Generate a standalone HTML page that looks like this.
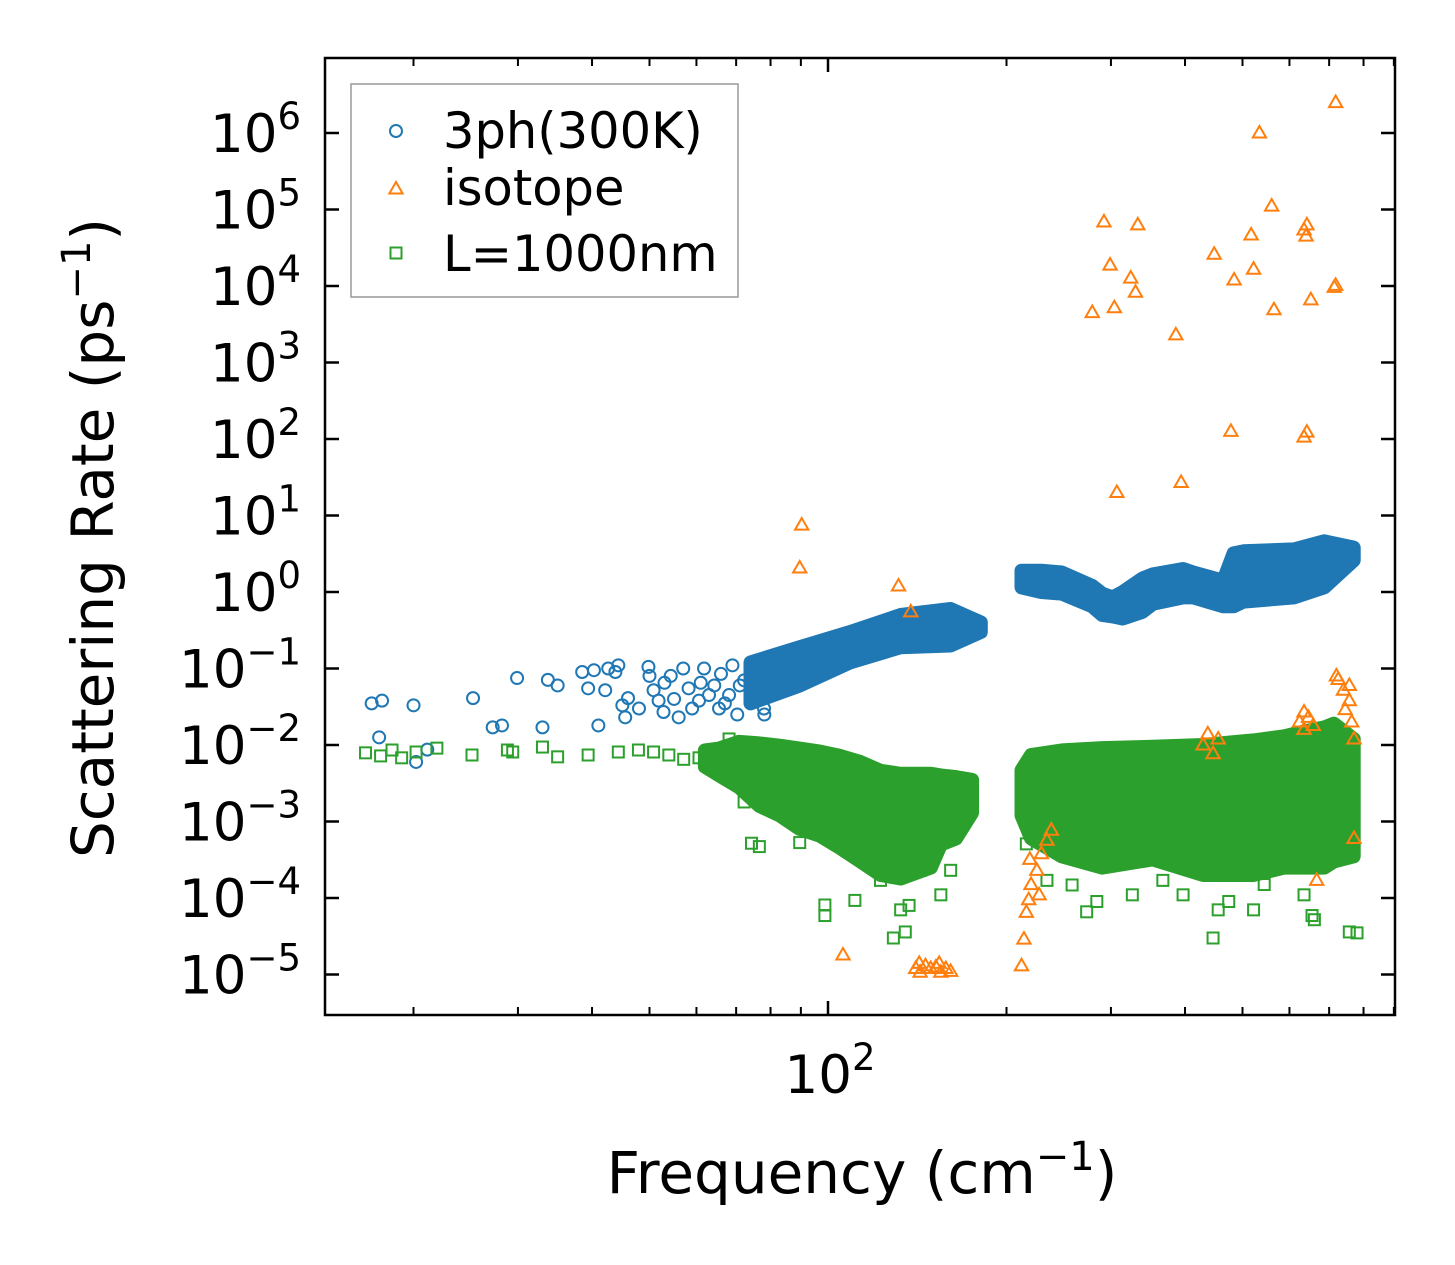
<!DOCTYPE html>
<html><head><meta charset="utf-8"><style>
html,body{margin:0;padding:0;background:#fff;}
svg{display:block;font-family:"DejaVu Sans","Liberation Sans",sans-serif;}
</style></head><body>
<svg id="chart" width="1455" height="1265" viewBox="0 0 1455 1265" xmlns="http://www.w3.org/2000/svg">
<rect x="0" y="0" width="1455" height="1265" fill="#fff"/>
<g id="marks"></g>
<g id="axes"></g>
<g id="legend"></g>
</svg>
<script>
// ---------- data ----------
const blueFreq = [17.0,17.7,17.5,20.0,20.2,21.1,25.2,27.2,28.2,29.9,33.0,33.7,35.0,38.5,39.4,40.3,41.0,42.1,42.6,43.8,44.3,45.0,45.5,46.0,49.8,50.8,51.8,52.8,54.3,56.0,58.2,60.6,61.8,64.3,65.5,68.1,70.3,72.2,78.1,
  48,50,53,55,57,59,61,63,66,67,69,71,74,76,78,80];
const blueRate = [0.035,0.038,0.0126,0.033,0.006,0.0087,0.041,0.017,0.018,0.075,0.017,0.071,0.06,0.09,0.055,0.095,0.018,0.052,0.1,0.09,0.11,0.033,0.023,0.041,0.105,0.052,0.038,0.027,0.08,0.023,0.055,0.038,0.1,0.06,0.03,0.045,0.025,0.07,0.025,
  0.03,0.08,0.065,0.04,0.1,0.03,0.065,0.045,0.085,0.035,0.11,0.06,0.04,0.1,0.03,0.045];
// dense blue bands: frequency, upper rate, lower rate
const blueBandLFreq = [74,89.6,109,132.6,161,181];
const blueBandLHigh = [0.12,0.19,0.3,0.5,0.6,0.4];
const blueBandLLow  = [0.035,0.06,0.12,0.19,0.2,0.3];
const blueBandRFreq = [212,229,248,279,290,302,314,339,353,397,413,464,483,502,611,687,770];
const blueBandRHigh = [1.9,1.9,1.8,1.2,0.95,0.85,1.0,1.5,1.7,2.0,1.8,1.4,3.2,3.4,3.6,4.6,3.8];
const blueBandRLow  = [1.15,1.0,0.95,0.65,0.5,0.48,0.45,0.55,0.7,0.85,0.85,0.65,0.65,0.75,0.85,1.15,2.6];

const greenFreq = [16.6,17.6,18.4,19.1,20.2,21.9,25.1,28.8,29.4,33.0,35.0,39.4,44.3,47.9,50.8,53.9,57.1,60.6,62.9,68.1,
  74.3,76.6,89.6,98.8,98.8,111,122.6,132.6,128.9,135,137,143,155,161,72.2,81.3,
  216,234,258,273,284,326,367,397,446,455,474,522,544,635,655,661,757,687,725,780];
const greenRate = [0.0079,0.0072,0.0086,0.0068,0.0081,0.0091,0.0074,0.0086,0.0081,0.0094,0.007,0.0074,0.0081,0.0086,0.0081,0.0074,0.0065,0.0068,0.0062,0.012,
  0.00052,0.00047,0.00053,0.000081,0.000059,0.000093,0.00017,0.00007,0.00003,0.000036,0.00008,0.00023,0.00011,0.00023,0.0018,0.0014,
  0.00051,0.00017,0.000148,0.000066,0.00009,0.00011,0.00017,0.00011,0.00003,0.00007,0.00009,0.00007,0.00015,0.00011,0.000059,0.000052,0.000036,0.00037,0.0012,0.000035];
const greenBandLFreq = [62,65.5,70.8,76.6,82.9,89.6,96.9,104.8,113.4,122.6,132.6,149.1,155,164.4,175];
const greenBandLHigh = [0.0085,0.009,0.011,0.0105,0.0098,0.009,0.0082,0.0072,0.006,0.0046,0.0042,0.0042,0.0040,0.0038,0.0035];
const greenBandLLow  = [0.0052,0.004,0.0028,0.0016,0.0012,0.0008,0.00065,0.00045,0.0003,0.0002,0.00018,0.00025,0.0005,0.0006,0.0013];
const greenBandRFreq = [212,220,248,290,353,429,522,588,635,687,713,770];
const greenBandRHigh = [0.0047,0.0074,0.0085,0.0091,0.0095,0.01,0.0115,0.013,0.015,0.017,0.019,0.012];
const greenBandRLow  = [0.0012,0.0006,0.00035,0.00025,0.00032,0.0002,0.0002,0.00025,0.00025,0.00025,0.0003,0.00035];

const orangeFreq = [90.3,89.6,131.5,137.9,106,279,292,299,304,324,330,333,386,394,307,448,478,484,517,522,534,560,565,635,642,635,640,642,652,718,718,714,
  140.6,143,146,149,152,155,158,161,142.5,154,
  212,214,216,218,220,225,229,234,238,219,227,
  429,437,446,455,624,635,646,658,635,725,740,757,764,771,745,720,757,771,667];
const orangeRate = [7.5,2.06,1.2,0.55,1.8e-5,4500,68800,18800,5200,12700,8300,63000,2300,27,20,26000,126,12000,46500,16600,1e6,111000,4900,106,123,54000,45000,63000,6600,2.5e6,10200,9600,
  1.2e-5,1.07e-5,1.3e-5,1.2e-5,1.25e-5,1.07e-5,1.2e-5,1.1e-5,1.4e-5,1.4e-5,
  1.3e-5,2.9e-5,6.5e-5,9.5e-5,1.5e-4,2.3e-4,3.8e-4,5.7e-4,7.7e-4,3.2e-4,1.1e-4,
  0.01,0.014,0.0077,0.012,0.02,0.016,0.023,0.018,0.027,0.072,0.052,0.038,0.02,0.012,0.029,0.08,0.06,0.0006,0.00017];

const yTickExps = [-5,-4,-3,-2,-1,0,1,2,3,4,5,6];
const xMinorTicks = [20,30,40,50,60,70,80,90,200,300,400,500,600,700,800,900];

// ---------- axes ----------
const L=325,R=1395,T=58,B=1015;
const xDec=593, x100=828;
function sx(f){return x100+(Math.log10(f)-2)*xDec;}
const yDec=76.5, y6=133;
function sy(v){return y6+(6-Math.log10(v))*yDec;}
const NS="http://www.w3.org/2000/svg";
function mk(tag,attrs,parent){const e=document.createElementNS(NS,tag);for(const k in attrs)e.setAttribute(k,attrs[k]);parent.appendChild(e);return e;}
const marks=document.getElementById('marks');
const axes=document.getElementById('axes');
const legend=document.getElementById('legend');
const BLUE="#1f77b4",ORANGE="#ff7f0e",GREEN="#2ca02c";

function band(fr,hi,lo,color,name){
  let pts=[];
  for(let i=0;i<fr.length;i++)pts.push(sx(fr[i]).toFixed(1)+","+sy(hi[i]).toFixed(1));
  for(let i=fr.length-1;i>=0;i--)pts.push(sx(fr[i]).toFixed(1)+","+sy(lo[i]).toFixed(1));
  const p=mk('polygon',{points:pts.join(' '),fill:color,stroke:color,'stroke-width':14,'stroke-linejoin':'round'},marks);
  
  
}
function circle(x,y,g,name){const c=mk('circle',{cx:x,cy:y,r:6,fill:'none',stroke:BLUE,'stroke-width':2},g);
  
  }
function tri(x,y,g,name){const s=7;const p=mk('polygon',{points:`${x},${y-s} ${x-s*0.95},${y+s*0.65} ${x+s*0.95},${y+s*0.65}`,fill:'none',stroke:ORANGE,'stroke-width':2},g);
  
  }
function sq(x,y,g,name){const s=5.5;const r=mk('rect',{x:x-s,y:y-s,width:2*s,height:2*s,fill:'none',stroke:GREEN,'stroke-width':2},g);
  
  }

const gB=mk('g',{},marks);
band(blueBandLFreq,blueBandLHigh,blueBandLLow,BLUE,'3ph-dense-low');
band(blueBandRFreq,blueBandRHigh,blueBandRLow,BLUE,'3ph-dense-high');
for(let i=0;i<blueFreq.length;i++)circle(sx(blueFreq[i]),sy(blueRate[i]),gB,'3ph-point');

const gG=mk('g',{},marks);
band(greenBandLFreq,greenBandLHigh,greenBandLLow,GREEN,'boundary-dense-low');
band(greenBandRFreq,greenBandRHigh,greenBandRLow,GREEN,'boundary-dense-high');
for(let i=0;i<greenFreq.length;i++)sq(sx(greenFreq[i]),sy(greenRate[i]),gG,'boundary-point');

const gO=mk('g',{},marks);
for(let i=0;i<orangeFreq.length;i++)tri(sx(orangeFreq[i]),sy(orangeRate[i]),gO,'isotope-point');

// frame
const fr=mk('rect',{x:L,y:T,width:R-L,height:B-T,fill:'none',stroke:'#000','stroke-width':2.5},axes);


// y ticks
yTickExps.forEach(e=>{
  const y=sy(Math.pow(10,e));
  mk('line',{x1:L,y1:y,x2:L+14,y2:y,stroke:'#000','stroke-width':2.5},axes);
  mk('line',{x1:R,y1:y,x2:R-14,y2:y,stroke:'#000','stroke-width':2.5},axes);
  const t=mk('text',{x:301,y:y+19,'text-anchor':'end','font-size':53,fill:'#000'},axes);
  
  
  const base=document.createElementNS(NS,'tspan');base.textContent='10';t.appendChild(base);
  const sup=document.createElementNS(NS,'tspan');sup.setAttribute('dy','-23');sup.setAttribute('font-size','37');
  sup.textContent=(e<0?'\u2212'+(-e):String(e));t.appendChild(sup);
});
// x ticks
mk('line',{x1:x100,y1:B,x2:x100,y2:B-14,stroke:'#000','stroke-width':2.5},axes);
mk('line',{x1:x100,y1:T,x2:x100,y2:T+14,stroke:'#000','stroke-width':2.5},axes);
xMinorTicks.forEach(v=>{
  const x=sx(v); if(x<L||x>R)return;
  mk('line',{x1:x,y1:B,x2:x,y2:B-8,stroke:'#000','stroke-width':2},axes);
  mk('line',{x1:x,y1:T,x2:x,y2:T+8,stroke:'#000','stroke-width':2},axes);
});
const xl=mk('text',{x:x100+2,y:1093,'text-anchor':'middle','font-size':53,fill:'#000'},axes);

xl.innerHTML='10<tspan dy="-23" font-size="37">2</tspan>';

const xt=mk('text',{x:862,y:1193,'text-anchor':'middle','font-size':58,fill:'#000'},axes);

xt.innerHTML='Frequency (cm<tspan dy="-23" font-size="40">\u22121</tspan><tspan dy="23">)</tspan>';
const yt=mk('text',{x:0,y:0,'text-anchor':'middle','font-size':58,fill:'#000',transform:'translate(113,538) rotate(-90)'},axes);

yt.innerHTML='Scattering Rate (ps<tspan dy="-23" font-size="40">\u22121</tspan><tspan dy="23">)</tspan>';

// legend
const lb=mk('rect',{x:351,y:84,width:387,height:213,fill:'#fff',stroke:'#999','stroke-width':1.5},legend);

const le=[['3ph(300K)',131,'legend-entry-3ph'],['isotope',188,'legend-entry-isotope'],['L=1000nm',254,'legend-entry-boundary']];
circle(396,131,legend,'legend-marker-3ph');
tri(396,189,legend,'legend-marker-isotope');
sq(396,253,legend,'legend-marker-boundary');
le.forEach(([s,y,n])=>{const t=mk('text',{x:443,y:y+17,'font-size':49.5,fill:'#000'},legend);t.textContent=s;
  
  });
</script>
</body></html>
